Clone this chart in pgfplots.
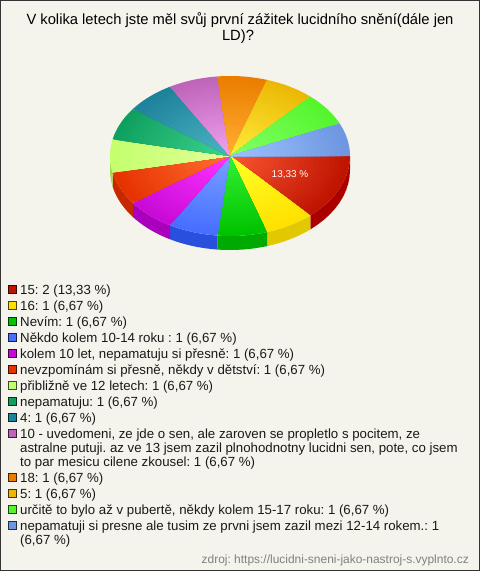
\documentclass[border=0pt]{standalone}
\usepackage{pgfplots}
\pgfplotsset{compat=1.18}
\usepackage{fontspec}
\setmainfont{Liberation Sans}
\frenchspacing
\definecolor{bg}{HTML}{F4F4EC}
% slice colours: light = centre, dark = rim, wall = side
\newcommand{\defslice}[4]{\definecolor{L#1}{RGB}{#2}\definecolor{D#1}{RGB}{#3}\definecolor{W#1}{RGB}{#4}}
\defslice{1}{250,85,50}{190,20,0}{170,0,0}
\defslice{2}{255,255,40}{255,225,0}{225,200,0}
\defslice{3}{50,240,50}{0,195,0}{0,170,0}
\defslice{4}{120,160,255}{70,110,255}{40,80,220}
\defslice{5}{255,50,255}{200,10,215}{170,0,190}
\defslice{6}{255,110,50}{230,50,0}{200,40,0}
\defslice{7}{225,255,150}{195,255,110}{160,220,80}
\defslice{8}{60,210,140}{15,160,95}{10,130,80}
\defslice{9}{75,180,195}{30,130,155}{25,110,130}
\defslice{10}{240,160,240}{190,100,185}{160,80,160}
\defslice{11}{255,175,50}{235,125,0}{200,105,0}
\defslice{12}{255,235,60}{235,185,5}{200,155,0}
\defslice{13}{130,255,100}{85,245,45}{60,210,30}
\defslice{14}{155,195,255}{110,150,225}{90,130,200}
\newcommand{\cx}{230}\newcommand{\cy}{156}\newcommand{\rx}{120}\newcommand{\ry}{80}\newcommand{\dep}{14}
% filled sector at radius fraction #3 between angles #1,#2
\newcommand{\sector}[4]{%
 \def\pts{(\cx,\cy)}%
 \pgfmathsetmacro{\st}{(#2-#1)/12}%
 \foreach \k in {0,...,12}{%
  \pgfmathsetmacro{\a}{#1+\k*\st}%
  \pgfmathsetmacro{\px}{\cx+#3*\rx*cos(\a)}%
  \pgfmathsetmacro{\py}{\cy+#3*\ry*sin(\a)}%
  \xdef\pts{\pts (\px,\py)}%
 }%
 \edef\tmp{\noexpand\addplot[draw=none,fill={#4},forget plot] coordinates {\pts} --cycle;}\tmp}
% side wall between angles #1,#2 (0..180)
\newcommand{\wall}[3]{%
 \def\pts{}\def\ptsb{}%
 \pgfmathsetmacro{\st}{(#2-#1)/10}%
 \foreach \k in {0,...,10}{%
  \pgfmathsetmacro{\a}{#1+\k*\st}%
  \pgfmathsetmacro{\px}{\cx+\rx*cos(\a)}%
  \pgfmathsetmacro{\py}{\cy+\ry*sin(\a)}%
  \pgfmathsetmacro{\pyb}{\py+\dep}%
  \xdef\pts{\pts (\px,\py)}%
  \xdef\ptsb{(\px,\pyb) \ptsb}%
 }%
 \edef\tmp{\noexpand\addplot[draw=none,fill={#3},forget plot] coordinates {\pts \ptsb} --cycle;}\tmp}
% gradient slice
\newcommand{\slice}[3]{%
 \foreach \b in {24,...,1}{%
  \pgfmathsetmacro{\fr}{\b/24}%
  \pgfmathtruncatemacro{\mixp}{100*(\b-1)/23}%
  \sector{#1}{#2}{\fr}{D#3!\mixp!L#3}%
 }}
\tikzset{legtxt/.style={anchor=base west,inner sep=0pt,font=\fontsize{13.3}{15}\selectfont,text=black!90}}
% #2 colour, #3 swatch centre y, #4 text
\newcommand{\leg}[4][]{%
 \addplot[only marks,mark=square*,mark size=4bp,mark options={fill=#2,draw=black!70!#2,line width=0.9bp},forget plot] coordinates {(12.7,#3)};
 \pgfmathsetmacro{\by}{#3+5}%
 \edef\tmp{\noexpand\node[legtxt] at (axis cs:20,\by)}\tmp {#4};}
\newcommand{\txt}[2]{\node[legtxt] at (axis cs:20,#1) {#2};}
\begin{document}
\begin{tikzpicture}[x=1bp,y=1bp]
\begin{axis}[
 scale only axis,width=480bp,height=571bp,
 xmin=0,xmax=480,ymin=0,ymax=571,y dir=reverse,
 axis lines=none,clip=false,
 axis background/.style={fill=bg},
]
% frame
\addplot[draw=black!80,line width=1.4bp,fill=bg,forget plot] coordinates {(0.7,0.7)(479.3,0.7)(479.3,570.3)(0.7,570.3)} --cycle;
% walls
\wall{0}{48}{W1}\wall{48}{72}{W2}\wall{72}{96}{W3}\wall{96}{120}{W4}\wall{120}{144}{W5}\wall{144}{168}{W6}\wall{168}{180}{W7}
% top
\slice{0}{48}{1}\slice{48}{72}{2}\slice{72}{96}{3}\slice{96}{120}{4}\slice{120}{144}{5}\slice{144}{168}{6}\slice{168}{192}{7}
\slice{192}{216}{8}\slice{216}{240}{9}\slice{240}{264}{10}\slice{264}{288}{11}\slice{288}{312}{12}\slice{312}{336}{13}\slice{336}{360}{14}
\node[text=white,anchor=base,font=\fontsize{10}{12}\selectfont,inner sep=0pt] at (axis cs:290,177) {13,33 \%};
% title
\node[anchor=base,font=\fontsize{14.8}{16}\selectfont,text=black,inner sep=0pt] at (axis cs:240,25) {V kolika letech jste měl svůj první zážitek lucidního snění(dále jen};
\node[anchor=base,font=\fontsize{14.8}{16}\selectfont,text=black,inner sep=0pt] at (axis cs:238,41) {LD)?};
% legend
\leg{D1}{289}{15: 2 (13,33 \%)}
\leg{D2}{305}{16: 1 (6,67 \%)}
\leg{D3}{321}{Nevím: 1 (6,67 \%)}
\leg{D4}{337}{Někdo kolem 10-14 roku : 1 (6,67 \%)}
\leg{D5}{353}{kolem 10 let, nepamatuju si přesně: 1 (6,67 \%)}
\leg{D6}{369}{nevzpomínám si přesně, někdy v dětství: 1 (6,67 \%)}
\leg{D7}{385}{přibližně ve 12 letech: 1 (6,67 \%)}
\leg{D8}{401}{nepamatuju: 1 (6,67 \%)}
\leg{D9}{417}{4: 1 (6,67 \%)}
\leg{D10}{433}{10 - uvedomeni, ze jde o sen, ale zaroven se propletlo s pocitem, ze}
\txt{452}{astralne putuji. az ve 13 jsem zazil plnohodnotny lucidni sen, pote, co jsem}
\txt{466}{to par mesicu cilene zkousel: 1 (6,67 \%)}
\leg{D11}{477}{18: 1 (6,67 \%)}
\leg{D12}{493}{5: 1 (6,67 \%)}
\leg{D13}{509}{určitě to bylo až v pubertě, někdy kolem 15-17 roku: 1 (6,67 \%)}
\leg{D14}{525}{nepamatuji si presne ale tusim ze prvni jsem zazil mezi 12-14 rokem.: 1}
\txt{544}{(6,67 \%)}
\node[anchor=base east,inner sep=0pt,font=\fontsize{12}{14}\selectfont,text=black!50] at (axis cs:469,563) {zdroj: https://lucidni-sneni-jako-nastroj-s.vyplnto.cz};
\end{axis}
\end{tikzpicture}
\end{document}
